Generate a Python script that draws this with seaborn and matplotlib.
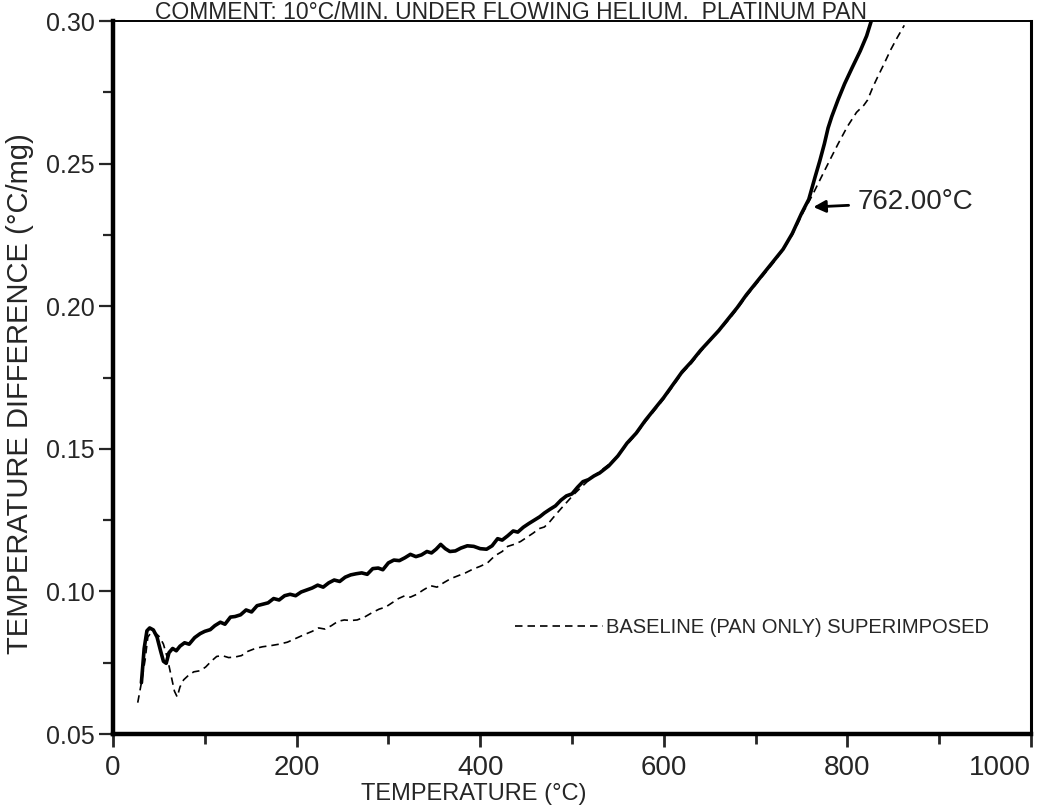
import matplotlib
matplotlib.use("Agg")
import matplotlib.pyplot as plt
import seaborn as sns
import pandas as pd
from matplotlib.ticker import MultipleLocator, FormatStrFormatter

# ---- data ----
sample_T = [31, 34, 37, 40, 44, 48, 52, 55, 58, 61, 65, 69, 73, 78, 83, 89, 95, 100, 106, 111,
            117, 122, 128, 133, 139, 145, 151, 157, 163, 169, 175, 181, 187, 193, 199, 205, 211,
            217, 223, 229, 235, 241, 247, 253, 259, 265, 271, 277, 283, 289, 294, 300, 306, 312,
            318, 324, 330, 336, 342, 347, 352, 357, 362, 367, 373, 379, 386, 393, 400, 407, 413,
            419, 424, 430, 436, 441, 447, 453, 459, 465, 470, 476, 482, 488, 494, 500, 506, 512,
            518, 524, 530, 540, 550, 560, 570, 580, 590, 600, 610, 620, 630, 640, 650, 660, 670,
            680, 690, 700, 710, 720, 730, 740, 750, 758, 765, 770, 775, 779, 783, 790, 797, 805,
            814, 821, 827, 832]
sample_dT = [0.068, 0.080, 0.0862, 0.0872, 0.0865, 0.084, 0.079, 0.0755, 0.0748, 0.0785, 0.0800,
             0.0792, 0.0808, 0.0820, 0.0815, 0.0838, 0.0852, 0.0860, 0.0866, 0.0880, 0.0892,
             0.0885, 0.0910, 0.0912, 0.0918, 0.0935, 0.0928, 0.0950, 0.0955, 0.0960, 0.0975,
             0.0970, 0.0985, 0.0990, 0.0985, 0.0998, 0.1005, 0.1012, 0.1022, 0.1015, 0.1030,
             0.1040, 0.1035, 0.1050, 0.1058, 0.1062, 0.1065, 0.1060, 0.1080, 0.1082, 0.1076,
             0.1100, 0.1110, 0.1108, 0.1118, 0.1130, 0.1122, 0.1128, 0.1140, 0.1135, 0.1148,
             0.1165, 0.1150, 0.1140, 0.1142, 0.1152, 0.1160, 0.1158, 0.1150, 0.1148, 0.1160,
             0.1185, 0.1180, 0.1195, 0.1212, 0.1208, 0.1225, 0.1238, 0.1250, 0.1262, 0.1275,
             0.1288, 0.1300, 0.1320, 0.1335, 0.1342, 0.1365, 0.1385, 0.1392, 0.1405, 0.1415,
             0.1440, 0.1475, 0.1520, 0.1555, 0.1600, 0.1640, 0.1680, 0.1725, 0.1770, 0.1805,
             0.1845, 0.1880, 0.1915, 0.1955, 0.1995, 0.2040, 0.2080, 0.2120, 0.2160, 0.2200,
             0.2255, 0.2325, 0.2375, 0.2455, 0.2510, 0.2570, 0.2625, 0.2665, 0.2725, 0.2780,
             0.2835, 0.2895, 0.2948, 0.3010, 0.3060]

baseline_T = [27, 31, 35, 38, 42, 46, 51, 55, 59, 63, 67, 70, 73, 77, 82, 88, 95, 101, 107, 113,
              119, 126, 133, 140, 147, 155, 163, 172, 181, 190, 199, 208, 217, 224, 231, 238, 245,
              252, 259, 266, 274, 282, 290, 297, 304, 311, 318, 324, 331, 338, 346, 353, 360, 368,
              376, 384, 392, 400, 408, 416, 424, 430, 437, 444, 451, 458, 464, 470, 476, 482, 488,
              495, 502, 510, 520, 530, 540, 550, 560, 570, 580, 590, 600, 610, 620, 630, 640, 650,
              660, 670, 680, 690, 700, 710, 720, 730, 740, 752, 762, 772, 781, 790, 800, 810, 818,
              822, 828, 833, 840, 847, 854, 862]
baseline_dT = [0.061, 0.068, 0.076, 0.084, 0.0858, 0.0855, 0.0840, 0.0815, 0.0770, 0.0710, 0.0650,
               0.0630, 0.0665, 0.0690, 0.0705, 0.0718, 0.0722, 0.0735, 0.0755, 0.0772, 0.0775,
               0.0768, 0.0770, 0.0775, 0.0790, 0.0800, 0.0806, 0.0810, 0.0815, 0.0822, 0.0835,
               0.0848, 0.0860, 0.0872, 0.0868, 0.0880, 0.0895, 0.0900, 0.0898, 0.0900, 0.0910,
               0.0925, 0.0938, 0.0945, 0.0960, 0.0975, 0.0985, 0.0980, 0.0990, 0.1005, 0.1020,
               0.1015, 0.1030, 0.1045, 0.1055, 0.1065, 0.1078, 0.1088, 0.1100, 0.1125, 0.1140,
               0.1158, 0.1165, 0.1175, 0.1190, 0.1205, 0.1220, 0.1226, 0.1245, 0.1268, 0.1290,
               0.1315, 0.1340, 0.1365, 0.1395, 0.1420, 0.1445, 0.1475, 0.1515, 0.1552, 0.1595,
               0.1635, 0.1675, 0.1720, 0.1765, 0.1800, 0.1840, 0.1878, 0.1912, 0.1950, 0.1990,
               0.2035, 0.2075, 0.2115, 0.2155, 0.2198, 0.2250, 0.2330, 0.2390, 0.2455, 0.2513,
               0.2570, 0.2630, 0.2680, 0.2705, 0.2723, 0.2770, 0.2804, 0.2850, 0.2898, 0.2940,
               0.2985]

x_ticks = [0, 200, 400, 600, 800, 1000]
y_ticks = [0.05, 0.10, 0.15, 0.20, 0.25, 0.30]
annot_T = 763
annot_dT = 0.2348
annot_text = "762.00°C"
title_text = "COMMENT: 10°C/MIN. UNDER FLOWING HELIUM.  PLATINUM PAN"
legend_text = "BASELINE (PAN ONLY) SUPERIMPOSED"

# ---- style ----
sns.set_style("ticks")
FAM = ["Liberation Sans", "DejaVu Sans"]
plt.rcParams["font.family"] = FAM

fig = plt.figure(figsize=(10.42, 8.10), dpi=100)
ax = fig.add_axes([0.1084, 0.0938, 0.8810, 0.8802])

df_s = pd.DataFrame({"T": sample_T, "dT": sample_dT})
df_b = pd.DataFrame({"T": baseline_T, "dT": baseline_dT})

sns.lineplot(data=df_s, x="T", y="dT", ax=ax, color="black", lw=2.6, sort=False,
             estimator=None, label="_nolegend_")
sns.lineplot(data=df_b, x="T", y="dT", ax=ax, color="black", lw=1.2, sort=False,
             estimator=None, label=legend_text)
ax.lines[1].set_dashes([4.5, 3])

ax.set_xlim(0, 1000)
ax.set_ylim(0.05, 0.30)
ax.set_xticks(x_ticks)
ax.set_yticks(y_ticks)
ax.xaxis.set_minor_locator(MultipleLocator(100))
ax.yaxis.set_minor_locator(MultipleLocator(0.025))
ax.yaxis.set_major_formatter(FormatStrFormatter("%.2f"))

ax.tick_params(axis="x", which="major", length=9, width=2, labelsize=20, pad=6, direction="out")
ax.tick_params(axis="x", which="minor", length=7, width=2, direction="out")
ax.tick_params(axis="y", which="major", length=10, width=1.6, labelsize=18, pad=3, direction="out")
ax.tick_params(axis="y", which="minor", length=7, width=1.6, direction="out")

fig.canvas.draw()
xt_labels = ax.get_xticklabels()
xt_labels[-1].set_horizontalalignment("right")

for side, lw in [("left", 3.2), ("bottom", 3.2), ("top", 1.4), ("right", 2.2)]:
    ax.spines[side].set_visible(True)
    ax.spines[side].set_linewidth(lw)
    ax.spines[side].set_color("black")

ax.set_xlabel("TEMPERATURE (°C)", fontsize=17, family=FAM)
ax.set_ylabel("TEMPERATURE DIFFERENCE (°C/mg)", fontsize=21, family=FAM)
ax.xaxis.set_label_coords(0.393, -0.068)
ax.yaxis.set_label_coords(-0.086, 0.478)

ax.annotate(annot_text, xy=(annot_T, annot_dT), xytext=(811, 0.2365),
            ha="left", va="center", fontsize=20, family=FAM,
            arrowprops=dict(arrowstyle="-|>", color="black", lw=2,
                            mutation_scale=18, shrinkA=4, shrinkB=0))

leg = ax.legend(loc="center left", bbox_to_anchor=(0.418, 0.149), frameon=False,
                handlelength=4.4, handletextpad=0.15, fontsize=14.5)
for t in leg.get_texts():
    t.set_family(FAM)

fig.text(0.49, 0.999, title_text, ha="center", va="top", fontsize=16.5, family=FAM)

fig.savefig("out.png", dpi=100, facecolor="white")
